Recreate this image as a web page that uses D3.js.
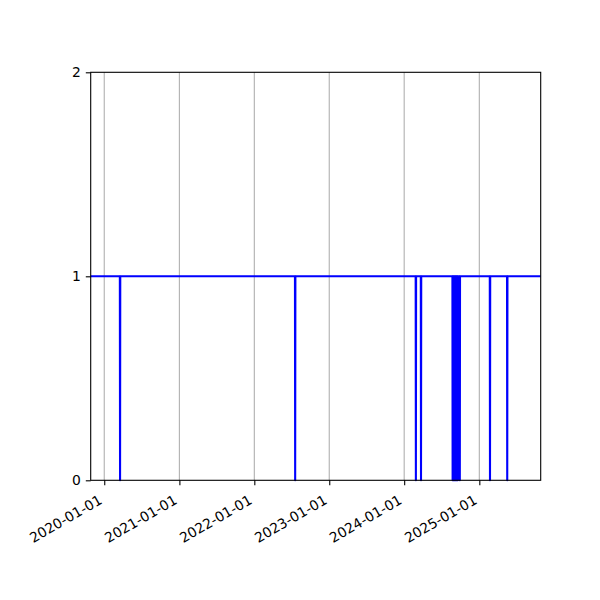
<!DOCTYPE html>
<html>
<head>
<meta charset="utf-8">
<script src="https://cdn.jsdelivr.net/npm/d3@7"></script>
<style>
  body { margin: 0; background: #fff; }
  svg { font-family: "DejaVu Sans", sans-serif; }
</style>
</head>
<body>
<div id="chart"></div>
<script>
// vertices of the line: value is 1 almost always, single-day drops to 0
var dates = [
  "2019-10-27",
  "2020-03-17", "2020-03-18", "2020-03-19",
  "2022-07-18", "2022-07-19", "2022-07-20",
  "2024-02-26", "2024-02-27", "2024-02-28",
  "2024-03-22", "2024-03-23", "2024-03-24",
  "2024-08-23", "2024-08-24", "2024-08-25",
  "2024-08-28", "2024-08-29", "2024-08-30",
  "2024-09-02", "2024-09-03", "2024-09-04",
  "2024-09-07", "2024-09-08", "2024-09-09",
  "2024-09-12", "2024-09-13", "2024-09-14",
  "2024-09-17", "2024-09-18", "2024-09-19",
  "2024-09-27", "2024-09-28", "2024-09-29",
  "2025-02-21", "2025-02-22", "2025-02-23",
  "2025-05-16", "2025-05-17", "2025-05-18",
  "2025-10-27"
];
var values = [
  1,
  1, 0, 1,
  1, 0, 1,
  1, 0, 1,
  1, 0, 1,
  1, 0, 1,
  1, 0, 1,
  1, 0, 1,
  1, 0, 1,
  1, 0, 1,
  1, 0, 1,
  1, 0, 1,
  1, 0, 1,
  1, 0, 1,
  1
];
var yTicks = [0, 1, 2];
var xStart = "2019-10-27", xEnd = "2025-10-27";

var parse = d3.utcParse("%Y-%m-%d");
var data = dates.map(function(d, i) { return { date: parse(d), value: values[i] }; });

var W = 600, H = 600;
var mLeft = 90.7, mRight = 540.7, mTop = 72.3, mBottom = 480.3;

var svg = d3.select("#chart").append("svg")
    .attr("width", W)
    .attr("height", H);

var x = d3.scaleUtc()
    .domain([parse(xStart), parse(xEnd)])
    .range([mLeft, mRight]);

var y = d3.scaleLinear()
    .domain([0, 2])
    .range([mBottom, mTop]);

var tickYears = d3.utcYear.range(parse("2020-01-01"), parse("2025-06-01"));

// vertical grid
svg.append("g").selectAll("line")
    .data(tickYears)
    .enter().append("line")
    .attr("x1", function(d) { return x(d); })
    .attr("x2", function(d) { return x(d); })
    .attr("y1", mTop)
    .attr("y2", mBottom)
    .attr("stroke", "#b0b0b0")
    .attr("stroke-width", 1.1);

var line = d3.line()
    .x(function(d) { return x(d.date); })
    .y(function(d) { return y(d.value); });

svg.append("path")
    .datum(data)
    .attr("fill", "none")
    .attr("stroke", "#0000ff")
    .attr("stroke-width", 2.1)
    .attr("stroke-linejoin", "round")
    .attr("d", line);

// x axis
var xAxis = svg.append("g")
    .attr("transform", "translate(0," + mBottom + ")")
    .call(d3.axisBottom(x).tickValues(tickYears).tickFormat(d3.utcFormat("%Y-%m-%d"))
      .tickSize(4.9).tickSizeOuter(0).tickPadding(4.9));
xAxis.select(".domain").remove();
xAxis.selectAll(".tick line").attr("stroke", "#000").attr("stroke-width", 1.1);
// rotated labels, right end tucked under the tick like autofmt_xdate
xAxis.selectAll(".tick text")
    .attr("font-size", 13.9)
    .attr("font-family", "DejaVu Sans")
    .attr("fill", "#000")
    .attr("text-anchor", "end")
    .attr("y", 0)
    .attr("dy", 0)
    .attr("transform", "translate(-1.7,22.5) rotate(-30)");

// y axis
var yAxis = svg.append("g")
    .attr("transform", "translate(" + mLeft + ",0)")
    .call(d3.axisLeft(y).tickValues(yTicks).tickFormat(d3.format("d"))
      .tickSize(4.9).tickSizeOuter(0).tickPadding(4.9));
yAxis.select(".domain").remove();
yAxis.selectAll(".tick line").attr("stroke", "#000").attr("stroke-width", 1.1);
yAxis.selectAll(".tick text")
    .attr("font-size", 13.9)
    .attr("font-family", "DejaVu Sans")
    .attr("fill", "#000");

// frame
svg.append("rect")
    .attr("x", mLeft)
    .attr("y", mTop)
    .attr("width", mRight - mLeft)
    .attr("height", mBottom - mTop)
    .attr("fill", "none")
    .attr("stroke", "#000")
    .attr("stroke-width", 1.1);
</script>
</body>
</html>
